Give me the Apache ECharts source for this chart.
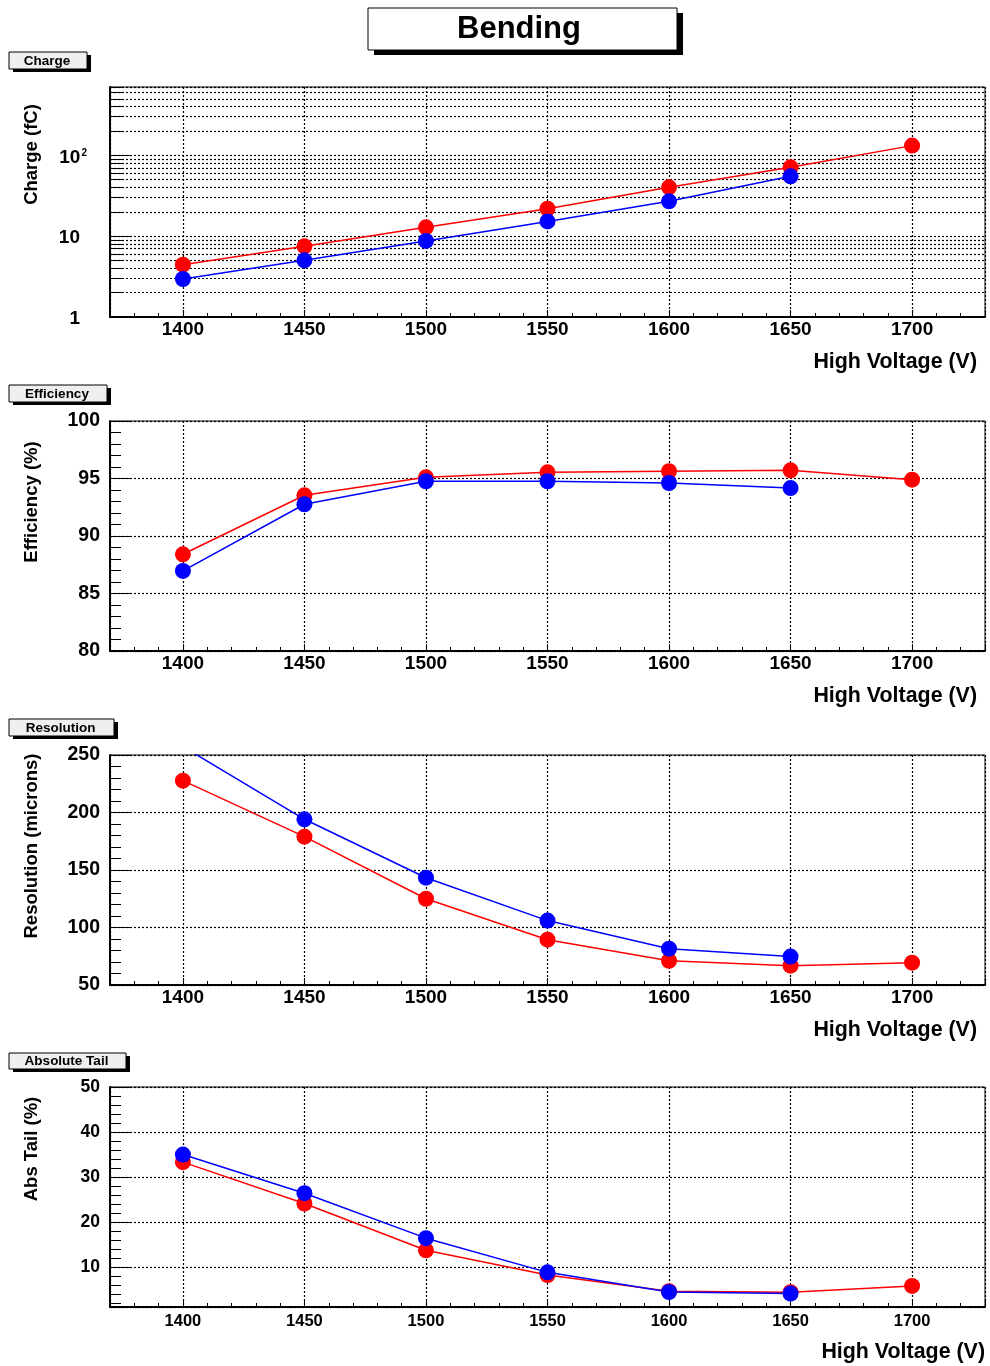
<!DOCTYPE html>
<html>
<head>
<meta charset="utf-8">
<script src="https://cdn.jsdelivr.net/npm/echarts@6/dist/echarts.min.js"></script>
<style>
  html, body { margin: 0; padding: 0; background: #fff; }
  #chart { width: 990px; height: 1366px; }
</style>
</head>
<body>
<div id="chart"></div>
<script>
// ---- data ----
const volts = [1400, 1450, 1500, 1550, 1600, 1650, 1700];

const chargeRed  = [4.44, 7.48, 12.85, 21.9, 40.2, 71.0, 131.8];
const chargeBlue = [2.95, 5.02, 8.72, 15.2, 27.0, 55.0, null];

const effRed  = [88.41, 93.54, 95.1, 95.54, 95.63, 95.71, 94.90];
const effBlue = [86.96, 92.76, 94.76, 94.76, 94.61, 94.17, null];

const resRed  = [227.7, 179.0, 125.0, 89.4, 71.1, 66.8, 69.4];
const resBlue = [257.3, 194.1, 143.3, 106.0, 81.6, 74.7, null];

const tailRed  = [33.3, 24.1, 13.7, 8.2, 4.6, 4.4, 5.78];
const tailBlue = [34.98, 26.4, 16.4, 8.8, 4.44, 4.09, null];

const xTickLabels = [1400, 1450, 1500, 1550, 1600, 1650, 1700];
const chargeLabelValues = [1, 10, 100];
const chargeMajorTicks = [10, 100];

const panelTitles = ['Charge', 'Efficiency', 'Resolution', 'Absolute Tail'];
const yNames = ['Charge (fC)', 'Efficiency (%)', 'Resolution (microns)', 'Abs Tail (%)'];
const xName = 'High Voltage (V)';
const mainTitle = 'Bending';

// ---- helpers ----
const FONT = '"Liberation Sans", Arial, Helvetica, sans-serif';
const RED = '#ff0000', BLUE = '#0000ff';

function pairs(xs, ys) {
  const out = [];
  xs.forEach((x, i) => { if (ys[i] !== null && ys[i] !== undefined) out.push([x, ys[i]]); });
  return out;
}

// log gridline/tick values 1..9 per decade up to axis max
const chargeMax = 700;
const chargeTicks = [];
[1, 10, 100].forEach(d => { for (let k = 1; k <= 9; k++) { if (k * d <= chargeMax) chargeTicks.push(k * d); } });

const dotted = { show: true, lineStyle: { color: '#000', width: 1.2, type: [2, 2] } };

function xAx(gi, fs, margin) {
  return {
    type: 'value', gridIndex: gi, min: 1370, max: 1730,
    splitNumber: 7, minInterval: 50, maxInterval: 50,
    axisLine: { show: true, onZero: false, lineStyle: { color: '#000', width: 2 } },
    axisTick: { show: true, inside: true, length: 7, lineStyle: { color: '#000', width: 1 } },
    minorTick: { show: true, splitNumber: 5, length: 4, lineStyle: { color: '#000', width: 1 } },
    axisLabel: { show: true, interval: 0, showMinLabel: false, showMaxLabel: false, color: '#000',
                 fontFamily: FONT, fontWeight: 'bold', fontSize: fs, margin: margin,
                 formatter: v => String(Math.round(v)) },
    splitLine: dotted,
    minorSplitLine: { show: false }
  };
}

function yAx(gi, opts, fs) {
  return Object.assign({
    type: 'value', gridIndex: gi,
    axisLine: { show: true, onZero: false, lineStyle: { color: '#000', width: 2 } },
    axisTick: { show: true, inside: true, length: 20, lineStyle: { color: '#000', width: 1 } },
    minorTick: { show: true, splitNumber: 5, length: 11, lineStyle: { color: '#000', width: 1 } },
    axisLabel: { show: true, color: '#000', fontFamily: FONT, fontWeight: 'bold', fontSize: fs, margin: 10, padding: [4, 0, 0, 0] },
    splitLine: dotted,
    minorSplitLine: { show: false }
  }, opts);
}

const grids = [
  { left: 110, top: 87,   width: 875, height: 230 },
  { left: 110, top: 421,  width: 875, height: 230 },
  { left: 110, top: 755,  width: 875, height: 230 },
  { left: 110, top: 1087, width: 875, height: 220 }
].map(g => Object.assign({ show: true, borderColor: '#000', borderWidth: 1, backgroundColor: 'transparent',
  containLabel: false, outerBoundsMode: 'none' }, g));

const xAxes = [xAx(0, 19, 3), xAx(1, 19, 3), xAx(2, 19, 3), xAx(3, 16.5, 5.5)];

const yAxes = [
  // 0: charge (log)
  {
    type: 'log', logBase: 10, gridIndex: 0, min: 1, max: chargeMax,
    axisLine: { show: true, onZero: false, lineStyle: { color: '#000', width: 2 } },
    axisTick: { show: true, inside: true, length: 12, customValues: chargeTicks, lineStyle: { color: '#000', width: 1 } },
    minorTick: { show: false },
    axisLabel: {
      show: true, customValues: chargeLabelValues, color: '#000', fontFamily: FONT, fontWeight: 'bold', fontSize: 19, margin: 23,
      padding: [4, 0, 0, 0],
      formatter: v => (Math.abs(v - 100) < 1e-6 ? '10{sup|2}' : '{n|' + Math.round(v) + '}'),
      rich: {
        n: { fontFamily: FONT, fontWeight: 'bold', fontSize: 19, color: '#000', padding: [0, 7, 0, 0] },
        sup: { fontFamily: FONT, fontWeight: 'bold', fontSize: 10, color: '#000', verticalAlign: 'top', padding: [0, 0, 0, 1] }
      }
    },
    splitLine: dotted
  },
  // 1: efficiency
  yAx(1, { min: 80, max: 100, interval: 5 }, 19.5),
  // 2: resolution
  yAx(2, { min: 50, max: 250, interval: 50 }, 19.5),
  // 3: abs tail
  yAx(3, { min: 1.1, max: 50, splitNumber: 5, minInterval: 10, maxInterval: 10,
           axisLabel: { show: true, showMinLabel: false, color: '#000', fontFamily: FONT, fontWeight: 'bold', fontSize: 17.5, margin: 10, padding: [3, 0, 0, 0] } }, 17.5),
  // 4: charge major decade ticks (overlay on the left edge)
  {
    type: 'log', logBase: 10, gridIndex: 0, min: 1, max: chargeMax, position: 'right', offset: -875,
    axisLine: { show: false },
    axisTick: { show: true, inside: false, length: 21, customValues: chargeMajorTicks, lineStyle: { color: '#000', width: 1 } },
    axisLabel: { show: false },
    splitLine: { show: false },
    minorTick: { show: false }
  }
];

function lineSeries(xi, yi, data, color, name) {
  return {
    type: 'line', name: name, xAxisIndex: xi, yAxisIndex: yi, data: data,
    symbol: 'circle', symbolSize: 16, clip: true, silent: true,
    itemStyle: { color: color, borderWidth: 0 },
    lineStyle: { color: color, width: 1.5 },
    emphasis: { disabled: true }, z: 3
  };
}

const series = [
  lineSeries(0, 0, pairs(volts, chargeRed), RED, 'Charge red'),
  lineSeries(0, 0, pairs(volts, chargeBlue), BLUE, 'Charge blue'),
  lineSeries(1, 1, pairs(volts, effRed), RED, 'Efficiency red'),
  lineSeries(1, 1, pairs(volts, effBlue), BLUE, 'Efficiency blue'),
  lineSeries(2, 2, pairs(volts, resRed), RED, 'Resolution red'),
  lineSeries(2, 2, pairs(volts, resBlue), BLUE, 'Resolution blue'),
  lineSeries(3, 3, pairs(volts, tailRed), RED, 'Tail red'),
  lineSeries(3, 3, pairs(volts, tailBlue), BLUE, 'Tail blue')
];

// ---- decorations (title box, panel label boxes, axis titles) ----
const graphic = [];
graphic.push({ type: 'rect', shape: { x: 374, y: 13, width: 309, height: 42 }, style: { fill: '#000' } });
graphic.push({ type: 'rect', shape: { x: 368, y: 8, width: 309, height: 42 }, style: { fill: '#fff', stroke: '#000', lineWidth: 1 } });
graphic.push({ type: 'text', x: 519, y: 29, style: { text: mainTitle, fill: '#000', font: 'bold 31px ' + FONT, align: 'center', verticalAlign: 'middle' } });

const labelBoxes = [
  { x: 9, y: 52,   w: 78,  h: 17 },
  { x: 9, y: 385,  w: 98,  h: 17 },
  { x: 9, y: 719,  w: 105, h: 17 },
  { x: 9, y: 1053, w: 117, h: 16 }
];
labelBoxes.forEach((b, i) => {
  graphic.push({ type: 'rect', shape: { x: b.x + 4, y: b.y + 3, width: b.w, height: b.h }, style: { fill: '#000' } });
  graphic.push({ type: 'rect', shape: { x: b.x, y: b.y, width: b.w, height: b.h }, style: { fill: '#efefef', stroke: '#000', lineWidth: 1 } });
  graphic.push({ type: 'text', x: b.x + b.w / 2 - 1, y: b.y + b.h / 2 + 0.5,
    style: { text: panelTitles[i], fill: '#000', font: 'bold 13.5px ' + FONT, align: 'center', verticalAlign: 'middle' } });
});

const yNamePos = [ { x: 32, y: 154.5 }, { x: 32, y: 502 }, { x: 32, y: 846 }, { x: 32, y: 1149 } ];
yNamePos.forEach((p, i) => {
  graphic.push({ type: 'text', x: p.x, y: p.y, rotation: Math.PI / 2,
    style: { text: yNames[i], fill: '#000', font: 'bold 18.5px ' + FONT, align: 'center', verticalAlign: 'middle' } });
});

const xNamePos = [ { x: 977, y: 362 }, { x: 977, y: 696 }, { x: 977, y: 1030 }, { x: 985, y: 1352 } ];
xNamePos.forEach(p => {
  graphic.push({ type: 'text', x: p.x, y: p.y,
    style: { text: xName, fill: '#000', font: 'bold 21.4px ' + FONT, align: 'right', verticalAlign: 'middle' } });
});

const chart = echarts.init(document.getElementById('chart'), null, { renderer: 'canvas', width: 990, height: 1366 });
chart.setOption({
  animation: false,
  backgroundColor: '#fff',
  grid: grids,
  xAxis: xAxes,
  yAxis: yAxes,
  series: series,
  graphic: graphic
});
</script>
</body>
</html>
